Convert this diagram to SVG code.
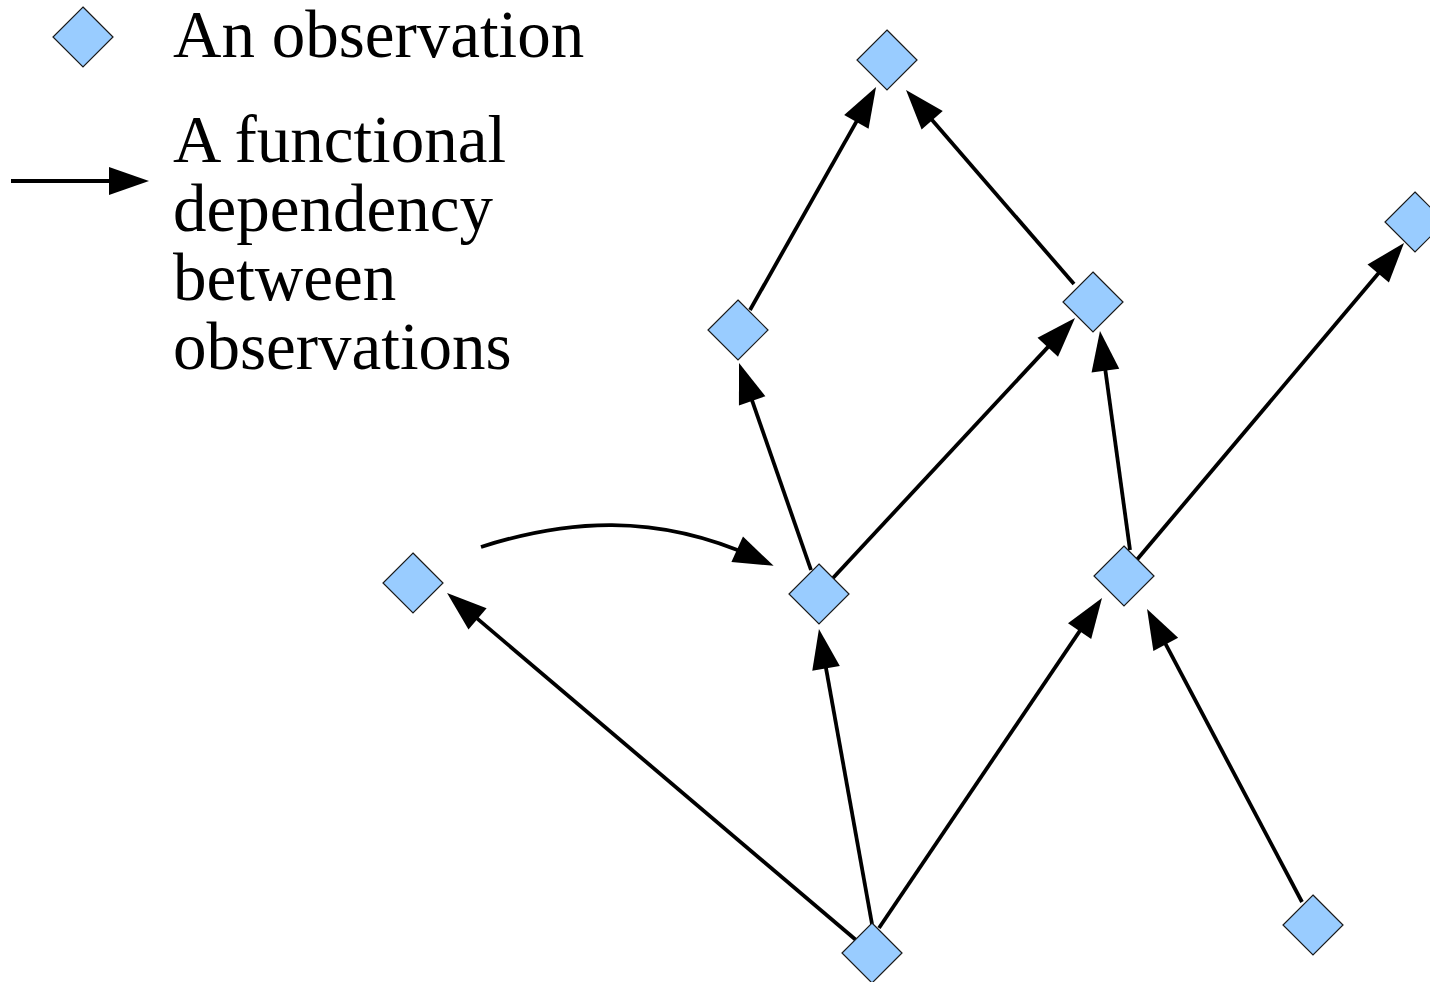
<svg xmlns="http://www.w3.org/2000/svg" width="1430" height="982" viewBox="0 0 1430 982">
  <style>
    .obs { fill: #99ccff; stroke: #1a1a1a; stroke-width: 1.2; }
    .dep { fill: none; stroke: #000; stroke-width: 3.8; marker-end: url(#head); }
    .label { font-family: "Liberation Serif", "Times New Roman", serif; font-size: 67px; fill: #000; }
  </style>
  <defs>
    <!-- filled arrowhead; its midpoint sits on the line end so the tip reaches 20px further -->
    <marker id="head" markerUnits="userSpaceOnUse" markerWidth="40" markerHeight="28" refX="20" refY="14" orient="auto" overflow="visible">
      <path d="M0,0 L40,14 L0,28 z" fill="#000"/>
    </marker>
    <path id="diamond" d="M0,-30 L30,0 L0,30 L-30,0 z"/>
  </defs>

  <!-- legend -->
  <g id="legend">
    <use href="#diamond" class="obs" x="83" y="37"/>
    <text class="label" x="173" y="57">An observation</text>
    <line class="dep" x1="11" y1="181" x2="129" y2="181"/>
    <text class="label">
      <tspan x="173" y="162">A functional</tspan>
      <tspan x="173" y="231">dependency</tspan>
      <tspan x="173" y="300">between</tspan>
      <tspan x="173" y="369">observations</tspan>
    </text>
  </g>

  <!-- dependencies: each line ends 20px short of its arrow tip -->
  <g id="connectors">
    <line class="dep" x1="856" y1="940" x2="462.3" y2="605.9"/>
    <line class="dep" x1="872" y1="924" x2="822.5" y2="648.7"/>
    <line class="dep" x1="879" y1="928" x2="1090.8" y2="614.6"/>
    <line class="dep" x1="1302" y1="902" x2="1156.4" y2="626.7"/>
    <line class="dep" x1="811" y1="570" x2="745.6" y2="381.9"/>
    <line class="dep" x1="833" y1="578" x2="1061.4" y2="332.6"/>
    <line class="dep" x1="1130" y1="550" x2="1102.7" y2="350.8"/>
    <line class="dep" x1="1135" y1="562" x2="1391.1" y2="258.3"/>
    <line class="dep" x1="750" y1="310" x2="866.2" y2="104.4"/>
    <line class="dep" x1="1074" y1="284" x2="919.1" y2="105.1"/>
    <path class="dep" d="M481,547 C565,520 655,512 755.4,557.6"/>
  </g>

  <!-- observations -->
  <g id="obs-top"><use href="#diamond" class="obs" x="887" y="60"/></g>
  <g id="obs-left-mid"><use href="#diamond" class="obs" x="738" y="330"/></g>
  <g id="obs-right-mid"><use href="#diamond" class="obs" x="1093" y="302"/></g>
  <g id="obs-far-right"><use href="#diamond" class="obs" x="1415" y="222"/></g>
  <g id="obs-isolated"><use href="#diamond" class="obs" x="413" y="583"/></g>
  <g id="obs-center"><use href="#diamond" class="obs" x="819" y="594"/></g>
  <g id="obs-right-center"><use href="#diamond" class="obs" x="1124" y="576"/></g>
  <g id="obs-bottom"><use href="#diamond" class="obs" x="872" y="953"/></g>
  <g id="obs-bottom-right"><use href="#diamond" class="obs" x="1313" y="925"/></g>
</svg>
